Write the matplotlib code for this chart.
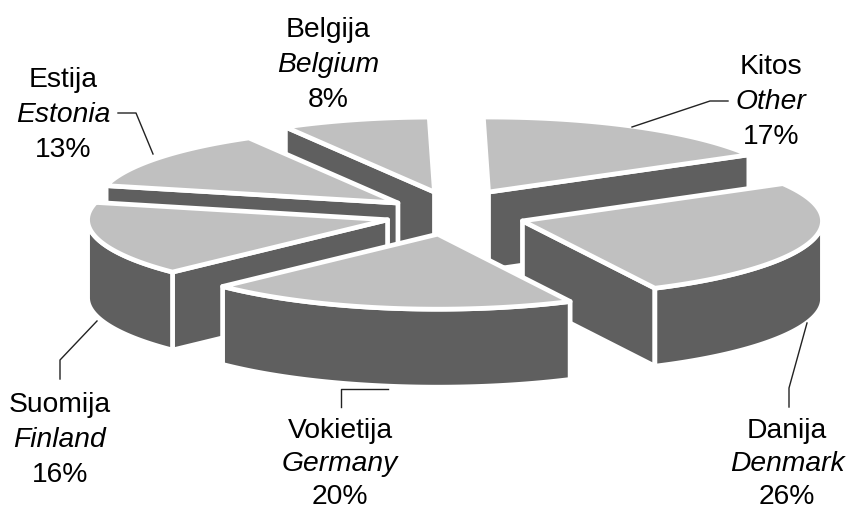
import matplotlib
matplotlib.use("Agg")
import matplotlib.pyplot as plt
from matplotlib.patches import Polygon
import numpy as np

plt.rcParams['font.family'] = ['Liberation Sans', 'DejaVu Sans']

# clockwise from the top, same order as the slices in the picture
names_lt = ["Kitos", "Danija", "Vokietija", "Suomija", "Estija", "Belgija"]
names_en = ["Other", "Denmark", "Germany", "Finland", "Estonia", "Belgium"]
shares = [17, 26, 20, 16, 13, 8]

# pie geometry in pixels
cx, cy = 445, 210
rx, ry = 300, 75
depth = 78
start = 91
explode = [0.26, 0.27, 0.30, 0.24, 0.20, 0.22]
# the original has perspective, these small shifts stand in for it
nudge_x = [5, 0, 8, 12, 1, 7]
nudge_y = [-1, 5, 2, 5, 2, -2]
top_col = "#c0c0c0"
side_col = "#5f5f5f"
edge_w = 3.4

fig = plt.figure(figsize=(8.47, 5.11), dpi=100)
ax = fig.add_axes([0, 0, 1, 1])
ax.set_xlim(0, 847)
ax.set_ylim(511, 0)
ax.axis("off")


def pt(ang, tip, dz=0):
    a = np.radians(ang)
    return np.array([tip[0] + rx * np.cos(a), tip[1] - ry * np.sin(a) + dz])


def draw_slice(a0, a1, tip):
    # a0 > a1, going clockwise
    arc = np.linspace(a0, a1, 80)
    top = [pt(a, tip) for a in arc]
    # cut faces, only the ones turned to the viewer
    for a, seen in ((a0, np.cos(np.radians(a0)) < -0.1), (a1, np.cos(np.radians(a1)) > 0.1)):
        if seen:
            p = pt(a, tip)
            face = [tip, p, p + [0, depth], np.array(tip) + [0, depth]]
            ax.add_patch(Polygon(face, fc=side_col, ec="white", lw=edge_w, joinstyle="round"))
    # outer wall, front part only
    front = [a for a in arc if np.sin(np.radians(a)) < 0]
    if len(front) > 1:
        wall = [pt(a, tip) for a in front] + [pt(a, tip, dz=depth) for a in front[::-1]]
        ax.add_patch(Polygon(wall, fc=side_col, ec="white", lw=edge_w, joinstyle="round"))
    ax.add_patch(Polygon([tip] + top, fc=top_col, ec="white", lw=edge_w, joinstyle="round"))


# work out each slice's angles from the shares
edges = start - np.cumsum([0] + shares) * 3.6
slices = []
for i in range(len(shares)):
    mid = np.radians((edges[i] + edges[i + 1]) / 2)
    tip = (cx + explode[i] * rx * np.cos(mid) + nudge_x[i],
           cy - explode[i] * ry * np.sin(mid) + nudge_y[i])
    slices.append((edges[i], edges[i + 1], tip))

# back to front
for i in [5, 4, 0, 3, 1, 2]:
    draw_slice(*slices[i])

# leader lines
ax.plot([632, 710, 728], [127, 101, 101], color="#222222", lw=1)
ax.plot([807, 789, 789], [323, 388, 407], color="#222222", lw=1)
ax.plot([388, 341, 341], [389, 389, 407], color="#222222", lw=1)
ax.plot([97, 60, 60], [321, 360, 379], color="#222222", lw=1)
ax.plot([118, 136, 153], [113, 113, 154], color="#222222", lw=1)

# labels, x centre and the baseline of the middle line
label_x = [771, 787, 340, 60, 63, 328]
label_y = [109, 471, 471, 447, 122, 72]
# bottom two labels are packed a bit tighter so the last line stays inside
line_gap = [35, 33.5, 33.5, 35, 35, 35]
for i in range(len(shares)):
    x, y, gap = label_x[i], label_y[i], line_gap[i]
    ax.text(x, y - gap, names_lt[i], ha="center", va="baseline", fontsize=20.3)
    ax.text(x, y, names_en[i], ha="center", va="baseline", fontsize=20.3, style="italic")
    ax.text(x, y + gap, str(shares[i]) + "%", ha="center", va="baseline", fontsize=20.3)

fig.savefig("out.png", dpi=100)
